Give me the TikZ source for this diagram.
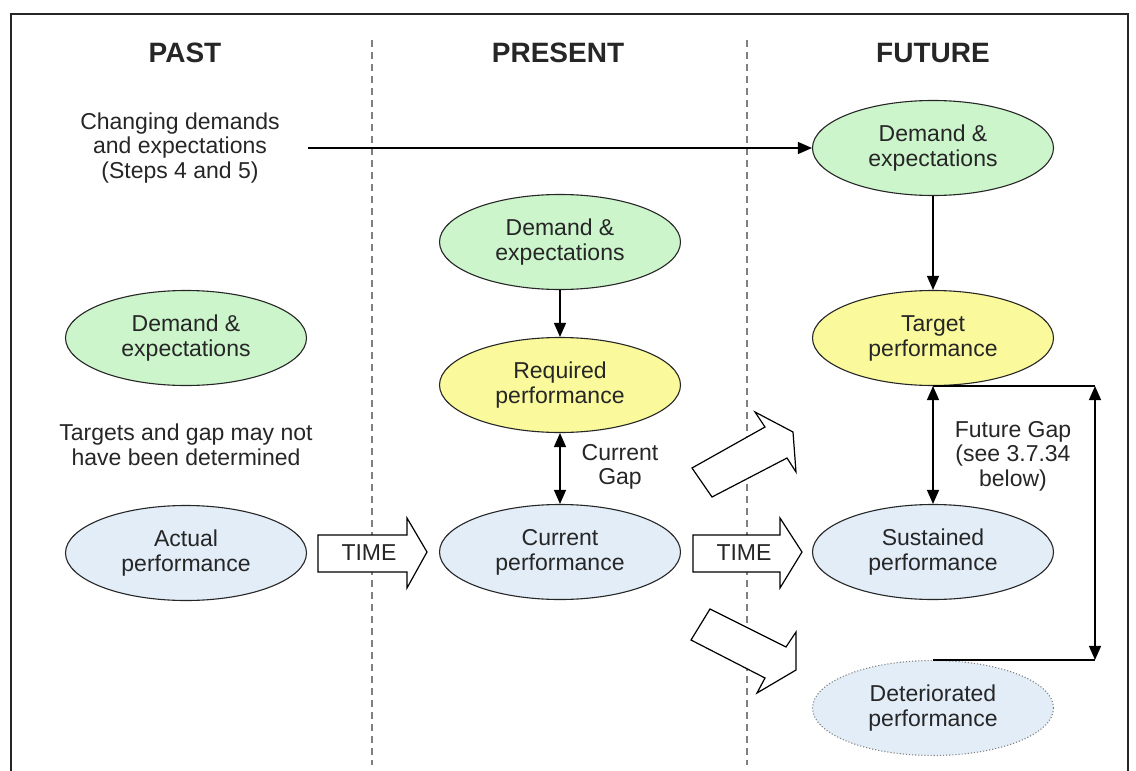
\documentclass[tikz,border=0pt]{standalone}
\usepackage{fontspec}
\setmainfont{Liberation Sans}
\usetikzlibrary{arrows.meta,shapes.geometric}

\definecolor{demandfill}{HTML}{CCF5CC}
\definecolor{perfyellow}{HTML}{FAFA9C}
\definecolor{perfblue}{HTML}{E2EDF8}
\definecolor{inkgray}{HTML}{262626}

\tikzset{
  oval/.style={ellipse, draw=inkgray, line width=1.1pt, minimum width=241pt,
    minimum height=95pt, inner sep=0pt, align=center,
    font=\fontsize{23}{25}\selectfont, text=inkgray},
  demand/.style={oval, fill=demandfill},
  required/.style={oval, fill=perfyellow},
  actual/.style={oval, fill=perfblue},
  faded/.style={oval, fill=perfblue, draw=gray, dotted},
  lbl/.style={align=center, font=\fontsize{23}{24.5}\selectfont, text=inkgray},
  header/.style={font=\fontsize{28}{30}\selectfont\bfseries, text=inkgray},
  link/.style={-{Triangle[length=14pt,width=12pt]}, line width=1.3pt},
  gaplink/.style={{Triangle[length=14pt,width=12pt]}-{Triangle[length=14pt,width=12pt]}, line width=1.3pt},
  era/.style={dash pattern=on 7pt off 5pt, gray, line width=1.3pt},
  fat/.style={draw=black, line width=1.2pt, fill=white, line join=miter},
}

\begin{document}
\begin{tikzpicture}[x=1pt, y=-1pt]
\useasboundingbox (0,0) rectangle (1136,771);

% outer frame (open at the bottom)
\draw[line width=2pt, inkgray] (11,771) -- (11,14) -- (1128,14) -- (1128,771);

% era separators
\draw[era] (372,40) -- (372,765);
\draw[era] (747,40) -- (747,765);

% column headings
\node[header] (past) at (185,53) {PAST};
\node[header] (present) at (558,53) {PRESENT};
\node[header] (future) at (933,53) {FUTURE};

% past column
\node[lbl] (chg) at (180,148) {Changing demands\\and expectations\\(Steps 4 and 5)};
\node[demand] (pdem) at (186,338) {Demand \&\\expectations};
\node[lbl] (pnote) at (186,445) {Targets and gap may not\\have been determined};
\node[actual] (pact) at (186,553) {Actual\\performance};

% present column
\node[demand] (cdem) at (560,242) {Demand \&\\expectations};
\node[required] (creq) at (560,385) {Required\\performance};
\node[actual] (ccur) at (560,552) {Current\\performance};
\node[lbl] (cgap) at (620,467) {Current\\Gap};

% future column
\node[demand] (fdem) at (933,148) {Demand \&\\expectations};
\node[required] (ftar) at (933,338) {Target\\performance};
\node[actual] (fsus) at (933,552) {Sustained\\performance};
\node[faded] (fdet) at (933,708) {Deteriorated\\performance};
\node[lbl] (fgap) at (1013,456) {Future Gap\\(see 3.7.34\\below)};
\coordinate (brk) at (1095,0);

% connectors
\draw[link] ([xshift=25pt]chg.east) -- (fdem.west);
\draw[link] (cdem) -- (creq);
\draw[link] (fdem) -- (ftar);
\draw[gaplink] (creq) -- (ccur);
\draw[gaplink] (ftar) -- (fsus);
\draw[line width=1.3pt] (ftar.south) -- (ftar.south -| brk);
\draw[line width=1.3pt] (fdet.north) -- (fdet.north -| brk);
\draw[gaplink] (ftar.south -| brk) -- (fdet.north -| brk);

% block arrows marking the passage of time
\draw[fat] (318,535) -- (407,535) -- (407,518) -- (427,552) -- (407,588) -- (407,572) -- (318,572) -- cycle;
\node[lbl] (time1) at (369,553) {TIME};
\draw[fat] (693,535) -- (780,535) -- (780,518) -- (802,552) -- (780,588) -- (780,572) -- (693,572) -- cycle;
\node[lbl] (time2) at (744,553) {TIME};

% diverging outcomes
\draw[fat] (692,468) -- (765,427) -- (755,412) -- (793,432) -- (796,472) -- (787,458) -- (712,497) -- cycle;
\draw[fat] (710,609) -- (786,647) -- (796,632) -- (796,670) -- (757,693) -- (765,678) -- (691,640) -- cycle;
\end{tikzpicture}
\end{document}
